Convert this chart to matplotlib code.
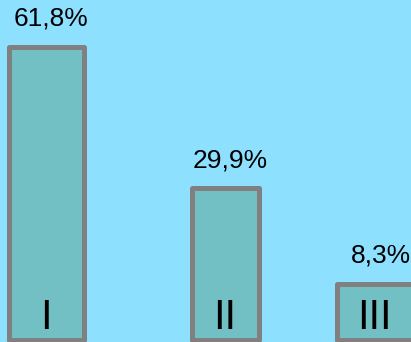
import matplotlib.pyplot as plt

# data
categorias = ["I", "II", "III"]
valores = [61.8, 29.9, 8.3]
etiquetas = ["61,8%", "29,9%", "8,3%"]

# layout
posiciones = [0.0, 1.0, 1.84]
anchos = [0.423, 0.378, 0.43]
fondo = "#8ee0ff"
relleno = "#72bfc4"
borde = "#808080"

plt.rcParams['font.family'] = ['Liberation Sans', 'DejaVu Sans']

fig = plt.figure(figsize=(4.11, 3.42), dpi=100, facecolor=fondo)
ax = fig.add_axes([0, 0, 1, 1], facecolor=fondo)

base = -4.5
alturas = [v - base for v in valores]
ax.bar(posiciones, alturas, width=anchos, bottom=base, color=relleno,
       edgecolor=borde, linewidth=3.6, joinstyle='round')

for x, v, txt in zip(posiciones, valores, etiquetas):
    ax.annotate(txt, (x, v), xytext=(3.5, 15), textcoords='offset points',
                ha='center', va='baseline', fontsize=19, color='black')

for x, cat in zip(posiciones, categorias):
    ax.text(x - 0.005, -2.0, cat, ha='center', va='baseline',
            fontsize=30, color='black')

ax.set_xlim(-0.259, 2.037)
ax.set_ylim(-4.9, 72.3)
ax.axis('off')

fig.savefig("out.png", dpi=100, facecolor=fondo)
